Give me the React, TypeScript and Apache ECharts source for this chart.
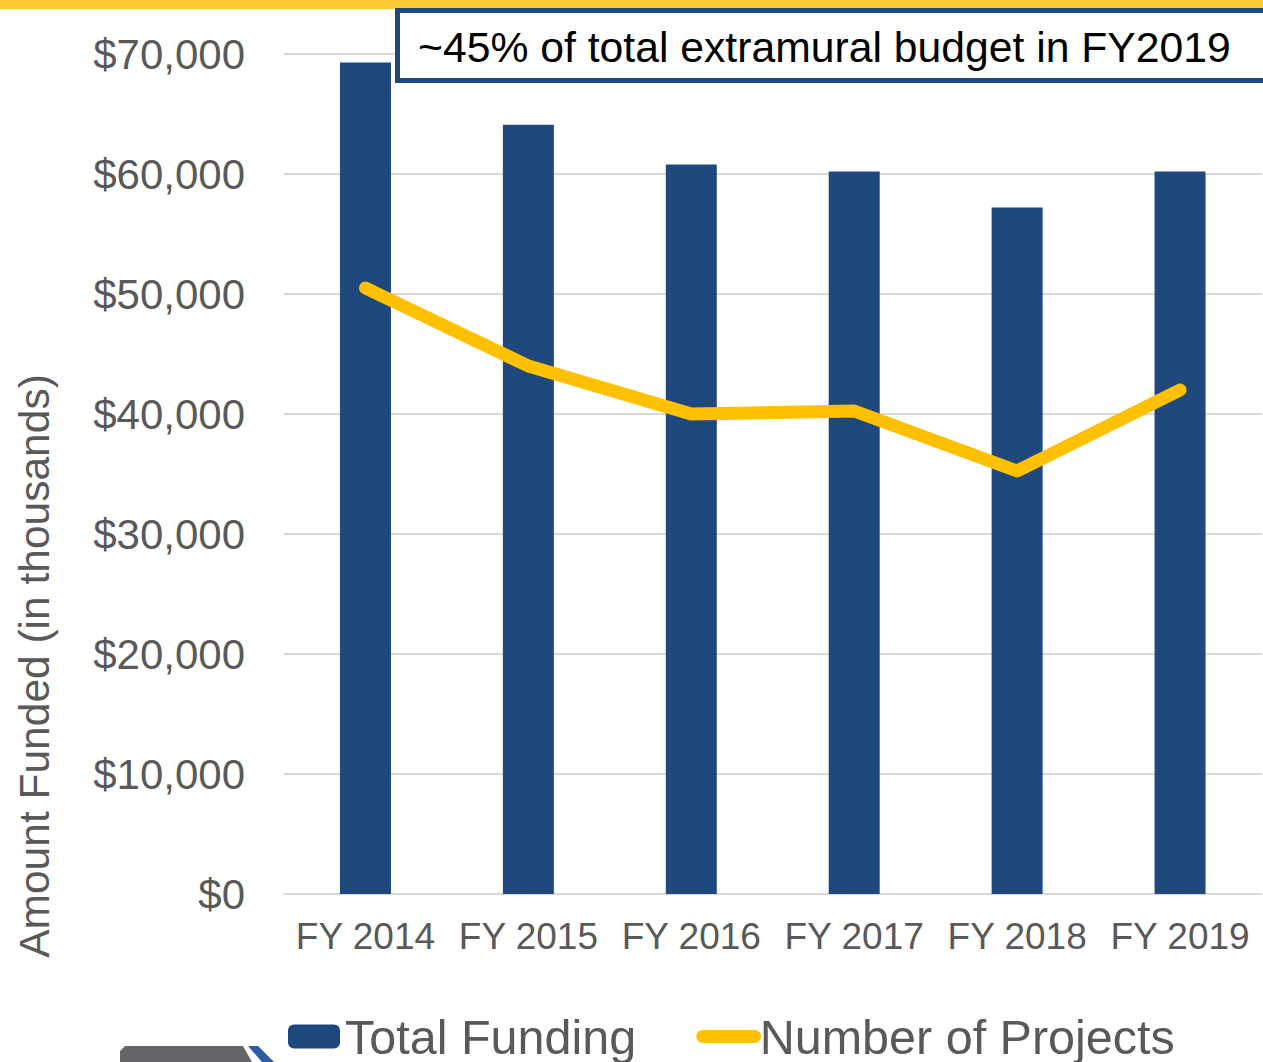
import React, { useEffect, useRef } from "react";
import * as echarts from "echarts";

const categories = ["FY 2014", "FY 2015", "FY 2016", "FY 2017", "FY 2018", "FY 2019"];
const totalFunding = [69300, 64100, 60800, 60200, 57200, 60200];
const numberOfProjects = [101, 88, 80, 80.5, 70.5, 84];
const fundingTicks = { min: 0, max: 70000, interval: 10000 };
const projectAxis = { min: 0, max: 140 };
const annotation = "~45% of total extramural budget in FY2019";
const yTitle = "Amount Funded (in thousands)";

const FONT = "'Liberation Sans', Arial, Helvetica, sans-serif";
const NAVY = "#1F497D";
const GOLD = "#FFC000";
const GRAY = "#595959";
const GRID = "#D9D9D9";

export default function App() {
  const ref = useRef<HTMLDivElement>(null);
  useEffect(() => {
    document.body.style.margin = "0";
    if (!ref.current) return;
    const chart = echarts.init(ref.current, undefined, { renderer: "svg" });
    chart.setOption({
      animation: false,
      backgroundColor: "#fff",
      textStyle: { fontFamily: FONT },
      grid: { left: 284, right: 1.5, top: 54, bottom: 168, containLabel: false },
      xAxis: {
        type: "category",
        data: categories,
        axisLine: { show: true, lineStyle: { color: GRID, width: 2 } },
        axisTick: { show: false },
        axisLabel: { color: GRAY, fontSize: 37, margin: 24, fontFamily: FONT, interval: 0 },
      },
      yAxis: [
        {
          type: "value",
          min: fundingTicks.min,
          max: fundingTicks.max,
          interval: fundingTicks.interval,
          axisLine: { show: false },
          axisTick: { show: false },
          splitLine: { lineStyle: { color: GRID, width: 2 } },
          axisLabel: {
            color: GRAY,
            fontSize: 42,
            margin: 39,
            fontFamily: FONT,
            formatter: (v: number) => "$" + v.toLocaleString("en-US"),
          },
        },
        {
          type: "value",
          min: projectAxis.min,
          max: projectAxis.max,
          show: false,
          splitLine: { show: false },
        },
      ],
      legend: {
        left: 288,
        top: 1012,
        padding: 0,
        itemWidth: 52,
        itemHeight: 24,
        itemGap: 60,
        textStyle: { color: GRAY, fontSize: 48.5, fontFamily: FONT },
        data: [
          { name: "Total Funding" },
          {
            name: "Number of Projects",
            itemStyle: { opacity: 0 },
            lineStyle: { width: 13, cap: "round", color: GOLD },
          },
        ],
      },
      series: [
        {
          name: "Total Funding",
          type: "bar",
          data: totalFunding,
          barWidth: 51,
          itemStyle: { color: NAVY },
          z: 2,
        },
        {
          name: "Number of Projects",
          type: "line",
          yAxisIndex: 1,
          data: numberOfProjects,
          symbol: "none",
          showSymbol: false,
          lineStyle: { color: GOLD, width: 13, cap: "round", join: "round" },
          itemStyle: { color: GOLD },
          z: 3,
        },
      ],
      graphic: [
        {
          type: "rect",
          z: 100,
          shape: { x: 0, y: 0, width: 1263, height: 9 },
          style: { fill: "#FFC933" },
        },
        {
          type: "rect",
          z: 101,
          shape: { x: 397.5, y: 10.5, width: 880, height: 70 },
          style: { fill: "#fff", stroke: NAVY, lineWidth: 5 },
        },
        {
          type: "text",
          z: 102,
          x: 418,
          y: 47,
          style: {
            text: annotation,
            fontSize: 42.7,
            fontFamily: FONT,
            fill: "#000",
            textAlign: "left",
            textVerticalAlign: "middle",
          },
        },
        {
          type: "text",
          z: 102,
          x: 34,
          y: 666,
          rotation: Math.PI / 2,
          style: {
            text: yTitle,
            fontSize: 42.5,
            fontFamily: FONT,
            fill: GRAY,
            textAlign: "center",
            textVerticalAlign: "middle",
          },
        },
        {
          type: "polygon",
          z: 100,
          shape: {
            points: [
              [120, 1051],
              [125, 1046],
              [243, 1046],
              [252, 1062],
              [120, 1062],
            ],
          },
          style: { fill: "#646569" },
        },
        {
          type: "polygon",
          z: 100,
          shape: {
            points: [
              [248, 1046],
              [258, 1046],
              [274, 1062],
              [262, 1062],
            ],
          },
          style: { fill: "#2B5EA0" },
        },
      ],
    });
    return () => chart.dispose();
  }, []);
  return <div ref={ref} style={{ width: 1263, height: 1062 }} />;
}
